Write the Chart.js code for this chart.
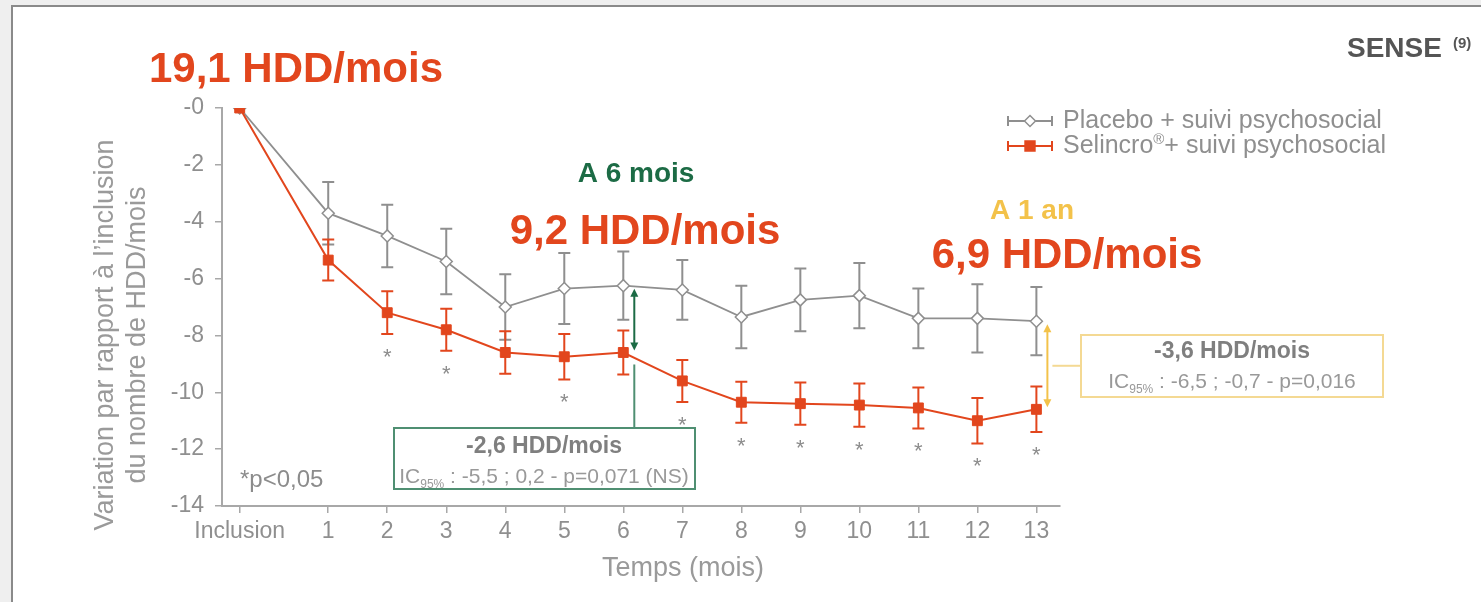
<!DOCTYPE html>
<html>
<head>
<meta charset="utf-8">
<script src="https://cdn.jsdelivr.net/npm/chart.js@4.4.1/dist/chart.umd.min.js"></script>
<style>
  html, body { margin: 0; padding: 0; background: #fff; }
  #wrap { position: relative; width: 1481px; height: 602px; }
</style>
</head>
<body>
<div id="wrap"><canvas id="hddChart" width="1481" height="602"></canvas></div>
<script>
// values (variation vs inclusion, HDD/month)
const monthLabels = ['Inclusion', '1', '2', '3', '4', '5', '6', '7', '8', '9', '10', '11', '12', '13'];
const months = [0, 1, 2, 3, 4, 5, 6, 7, 8, 9, 10, 11, 12, 13];
const placeboMean = [0, -3.7, -4.5, -5.4, -7.0, -6.35, -6.25, -6.4, -7.35, -6.75, -6.6, -7.4, -7.4, -7.5];
const placeboErr = [0, 1.1, 1.1, 1.15, 1.15, 1.25, 1.2, 1.05, 1.1, 1.1, 1.15, 1.05, 1.2, 1.2];
const selincroMean = [0, -5.35, -7.2, -7.8, -8.6, -8.75, -8.6, -9.6, -10.35, -10.4, -10.45, -10.55, -11.0, -10.6];
const selincroErr = [0, 0.72, 0.75, 0.74, 0.75, 0.8, 0.77, 0.74, 0.72, 0.74, 0.76, 0.72, 0.8, 0.8];
const significant = [false, false, true, true, false, true, false, true, true, true, true, true, true, true];
const yTickValues = [0, -2, -4, -6, -8, -10, -12, -14];

const FONT = "'Liberation Sans', Arial, sans-serif";
const ORANGE = '#e2461d';
const GREY = '#8f8f8f';
const AXIS = '#a8a8a8';
const TXT = '#8f8f8f';
const GREEN = '#1c6b45';
const GREEN_BOX = '#4f8f72';
const YELLOW = '#f3c24a';
const YELLOW_BOX = '#f4d993';

// inclusion sits a bit further left than month 1 on the original axis
const xPos = m => (m === 0 ? -0.5 : m);

const placeboPts = months.map((m, i) => ({ x: xPos(m), y: placeboMean[i] }));
const selincroPts = months.map((m, i) => ({ x: xPos(m), y: selincroMean[i] }));
const errs = { 0: selincroErr, 1: placeboErr };
const errColors = { 0: ORANGE, 1: GREY };

function arrowHead(ctx, x, y, dir) {
  ctx.beginPath();
  ctx.moveTo(x, y);
  ctx.lineTo(x - 4, y - 8 * dir);
  ctx.lineTo(x + 4, y - 8 * dir);
  ctx.closePath();
  ctx.fill();
}

function boxText(ctx, cx, top, title, pre, sub, rest) {
  ctx.fillStyle = '#7f7f7f';
  ctx.textAlign = 'left';
  ctx.textBaseline = 'alphabetic';
  ctx.font = 'bold 23px ' + FONT;
  let w = ctx.measureText(title).width;
  ctx.fillText(title, cx - w / 2, top + 25);
  ctx.fillStyle = '#999999';
  ctx.font = '21px ' + FONT;
  const w1 = ctx.measureText(pre).width;
  const w3 = ctx.measureText(rest).width;
  ctx.font = '12px ' + FONT;
  const w2 = ctx.measureText(sub).width;
  let x = cx - (w1 + w2 + w3) / 2;
  ctx.font = '21px ' + FONT;
  ctx.fillText(pre, x, top + 55);
  ctx.font = '12px ' + FONT;
  ctx.fillText(sub, x + w1, top + 60);
  ctx.font = '21px ' + FONT;
  ctx.fillText(rest, x + w1 + w2, top + 55);
}

const errorBars = {
  id: 'errorBars',
  beforeDatasetDraw(chart, args) {
    const ctx = chart.ctx;
    const y = chart.scales.y;
    const err = errs[args.index];
    ctx.save();
    ctx.strokeStyle = errColors[args.index];
    ctx.lineWidth = 2;
    args.meta.data.forEach((pt, i) => {
      if (!err[i]) return;
      const v = chart.data.datasets[args.index].data[i].y;
      const yt = y.getPixelForValue(v + err[i]);
      const yb = y.getPixelForValue(v - err[i]);
      ctx.beginPath();
      ctx.moveTo(pt.x, yt); ctx.lineTo(pt.x, yb);
      ctx.moveTo(pt.x - 6, yt); ctx.lineTo(pt.x + 6, yt);
      ctx.moveTo(pt.x - 6, yb); ctx.lineTo(pt.x + 6, yb);
      ctx.stroke();
    });
    ctx.restore();
  }
};

const decorations = {
  id: 'decorations',
  beforeDraw(chart) {
    const ctx = chart.ctx;
    ctx.save();
    ctx.fillStyle = '#efefef';
    ctx.fillRect(0, 0, chart.width, chart.height);
    ctx.fillStyle = '#ffffff';
    ctx.fillRect(12, 6, chart.width, chart.height);
    ctx.strokeStyle = '#8a8a8a';
    ctx.lineWidth = 2;
    ctx.beginPath();
    ctx.moveTo(12, chart.height); ctx.lineTo(12, 6); ctx.lineTo(chart.width, 6);
    ctx.stroke();
    ctx.restore();
  },
  afterDraw(chart) {
    const ctx = chart.ctx;
    const xs = chart.scales.x, ys = chart.scales.y;
    ctx.save();

    // axis titles
    ctx.fillStyle = '#9a9a9a';
    ctx.font = '27px ' + FONT;
    ctx.textAlign = 'center';
    ctx.textBaseline = 'middle';
    ctx.fillText('Temps (mois)', 683, 569);
    ctx.save();
    ctx.translate(106, 335);
    ctx.rotate(-Math.PI / 2);
    ctx.fillText('Variation par rapport à l\u2019inclusion', 0, 0);
    ctx.fillText('du nombre de HDD/mois', 0, 32);
    ctx.restore();

    // significance stars
    ctx.fillStyle = '#8c8c8c';
    ctx.font = '22px ' + FONT;
    ctx.textBaseline = 'alphabetic';
    months.forEach((m, i) => {
      if (!significant[i]) return;
      const yb = ys.getPixelForValue(selincroMean[i] - selincroErr[i]);
      ctx.fillText('*', xs.getPixelForValue(xPos(m)), yb + 30);
    });
    ctx.textAlign = 'left';
    ctx.font = '24px ' + FONT;
    ctx.fillText('*p<0,05', 240, 487);

    // big headline values
    ctx.textAlign = 'center';
    ctx.font = 'bold 42px ' + FONT;
    ctx.fillStyle = ORANGE;
    ctx.fillText('19,1 HDD/mois', 296, 82);
    ctx.fillText('9,2 HDD/mois', 645, 244);
    ctx.fillText('6,9 HDD/mois', 1067, 268);
    ctx.font = 'bold 28px ' + FONT;
    ctx.fillStyle = GREEN;
    ctx.fillText('A 6 mois', 636, 182);
    ctx.fillStyle = YELLOW;
    ctx.fillText('A 1 an', 1032, 219);

    // SENSE (9)
    ctx.fillStyle = '#555555';
    ctx.textAlign = 'left';
    ctx.font = 'bold 28px ' + FONT;
    ctx.fillText('SENSE', 1347, 57);
    ctx.font = 'bold 15px ' + FONT;
    ctx.fillText('(9)', 1453, 48);

    // legend
    const lx0 = 1008, lx1 = 1052, ly = [121, 146];
    ctx.lineWidth = 2;
    [GREY, ORANGE].forEach((col, k) => {
      const yy = ly[k];
      ctx.strokeStyle = col;
      ctx.beginPath();
      ctx.moveTo(lx0, yy); ctx.lineTo(lx1, yy);
      ctx.moveTo(lx0, yy - 5); ctx.lineTo(lx0, yy + 5);
      ctx.moveTo(lx1, yy - 5); ctx.lineTo(lx1, yy + 5);
      ctx.stroke();
    });
    ctx.fillStyle = '#fff'; ctx.strokeStyle = GREY; ctx.lineWidth = 1.5;
    Chart.helpers.drawPoint(ctx, { pointStyle: 'rectRot', radius: 5.5, rotation: 0, borderWidth: 1.5 }, 1030, ly[0]);
    ctx.fillStyle = ORANGE; ctx.strokeStyle = ORANGE;
    Chart.helpers.drawPoint(ctx, { pointStyle: 'rect', radius: 7, rotation: 0, borderWidth: 1 }, 1030, ly[1]);

    ctx.fillStyle = TXT;
    ctx.font = '25px ' + FONT;
    ctx.textBaseline = 'middle';
    ctx.fillText('Placebo + suivi psychosocial', 1063, ly[0]);
    const sel = 'Selincro';
    ctx.fillText(sel, 1063, ly[1]);
    let sx = 1063 + ctx.measureText(sel).width;
    ctx.font = '15px ' + FONT;
    ctx.fillText('\u00ae', sx, ly[1] - 6);
    sx += ctx.measureText('\u00ae').width;
    ctx.font = '25px ' + FONT;
    ctx.fillText('+ suivi psychosocial', sx, ly[1]);

    // 6 months difference arrow and box
    const ax = xs.getPixelForValue(6) + 11;
    const aTop = ys.getPixelForValue(placeboMean[6]) + 3;
    const aBot = ys.getPixelForValue(selincroMean[6]) - 2;
    ctx.strokeStyle = GREEN; ctx.fillStyle = GREEN; ctx.lineWidth = 2;
    ctx.beginPath(); ctx.moveTo(ax, aTop + 6); ctx.lineTo(ax, aBot - 6); ctx.stroke();
    arrowHead(ctx, ax, aTop, -1);
    arrowHead(ctx, ax, aBot, 1);
    ctx.strokeStyle = GREEN_BOX;
    ctx.beginPath(); ctx.moveTo(ax, aBot + 14); ctx.lineTo(ax, 428); ctx.stroke();
    ctx.strokeRect(394, 428, 301, 61);
    boxText(ctx, 544, 428, '-2,6 HDD/mois', 'IC', '95%', ' : -5,5 ; 0,2 - p=0,071 (NS)');

    // 1 year difference arrow and box
    const bx = xs.getPixelForValue(13) + 11;
    const bTop = ys.getPixelForValue(placeboMean[13]) + 3;
    const bBot = ys.getPixelForValue(selincroMean[13]) - 2;
    ctx.strokeStyle = YELLOW; ctx.fillStyle = YELLOW;
    ctx.beginPath(); ctx.moveTo(bx, bTop + 6); ctx.lineTo(bx, bBot - 6); ctx.stroke();
    arrowHead(ctx, bx, bTop, -1);
    arrowHead(ctx, bx, bBot, 1);
    ctx.strokeStyle = YELLOW_BOX;
    const midY = (bTop + bBot) / 2;
    ctx.beginPath(); ctx.moveTo(bx + 5, midY); ctx.lineTo(1081, midY); ctx.stroke();
    ctx.strokeRect(1081, 335, 302, 62);
    boxText(ctx, 1232, 333, '-3,6 HDD/mois', 'IC', '95%', ' : -6,5 ; -0,7 - p=0,016');

    ctx.restore();
  }
};

new Chart(document.getElementById('hddChart'), {
  type: 'line',
  data: {
    datasets: [
      {
        label: 'Selincro\u00ae+ suivi psychosocial',
        data: selincroPts,
        borderColor: ORANGE,
        backgroundColor: ORANGE,
        borderWidth: 2,
        pointStyle: 'rect',
        pointRadius: 7,
        pointBorderWidth: 1,
        tension: 0
      },
      {
        label: 'Placebo + suivi psychosocial',
        data: placeboPts,
        borderColor: GREY,
        backgroundColor: '#ffffff',
        borderWidth: 1.8,
        pointStyle: 'rectRot',
        pointRadius: 6,
        pointBorderWidth: 1.5,
        tension: 0
      }
    ]
  },
  options: {
    responsive: false,
    animation: false,
    devicePixelRatio: 1,
    layout: { padding: { left: 0, top: 108, right: 421, bottom: 0 } },
    plugins: { legend: { display: false }, tooltip: { enabled: false } },
    scales: {
      x: {
        type: 'linear',
        min: -0.8,
        max: 13.4,
        afterFit: s => { s.height = 96; },
        afterBuildTicks: s => { s.ticks = months.map(m => ({ value: xPos(m) })); },
        grid: { drawOnChartArea: false, drawTicks: true, tickLength: 7, color: AXIS, lineWidth: 1.5 },
        border: { display: true, color: AXIS, width: 2 },
        ticks: {
          padding: 5,
          color: TXT,
          font: { family: FONT, size: 23 },
          maxRotation: 0,
          autoSkip: false,
          callback: v => monthLabels[months.findIndex(m => xPos(m) === v)]
        }
      },
      y: {
        min: -14,
        max: 0,
        afterFit: s => { s.width = 222; },
        afterBuildTicks: s => { s.ticks = yTickValues.map(v => ({ value: v })); },
        grid: { drawOnChartArea: false, drawTicks: true, tickLength: 7, color: AXIS, lineWidth: 1.5 },
        border: { display: true, color: AXIS, width: 2 },
        ticks: {
          padding: 11,
          color: TXT,
          font: { family: FONT, size: 23 },
          callback: v => (v === 0 ? '-0' : String(v))
        }
      }
    }
  },
  plugins: [errorBars, decorations]
});
</script>
</body>
</html>
